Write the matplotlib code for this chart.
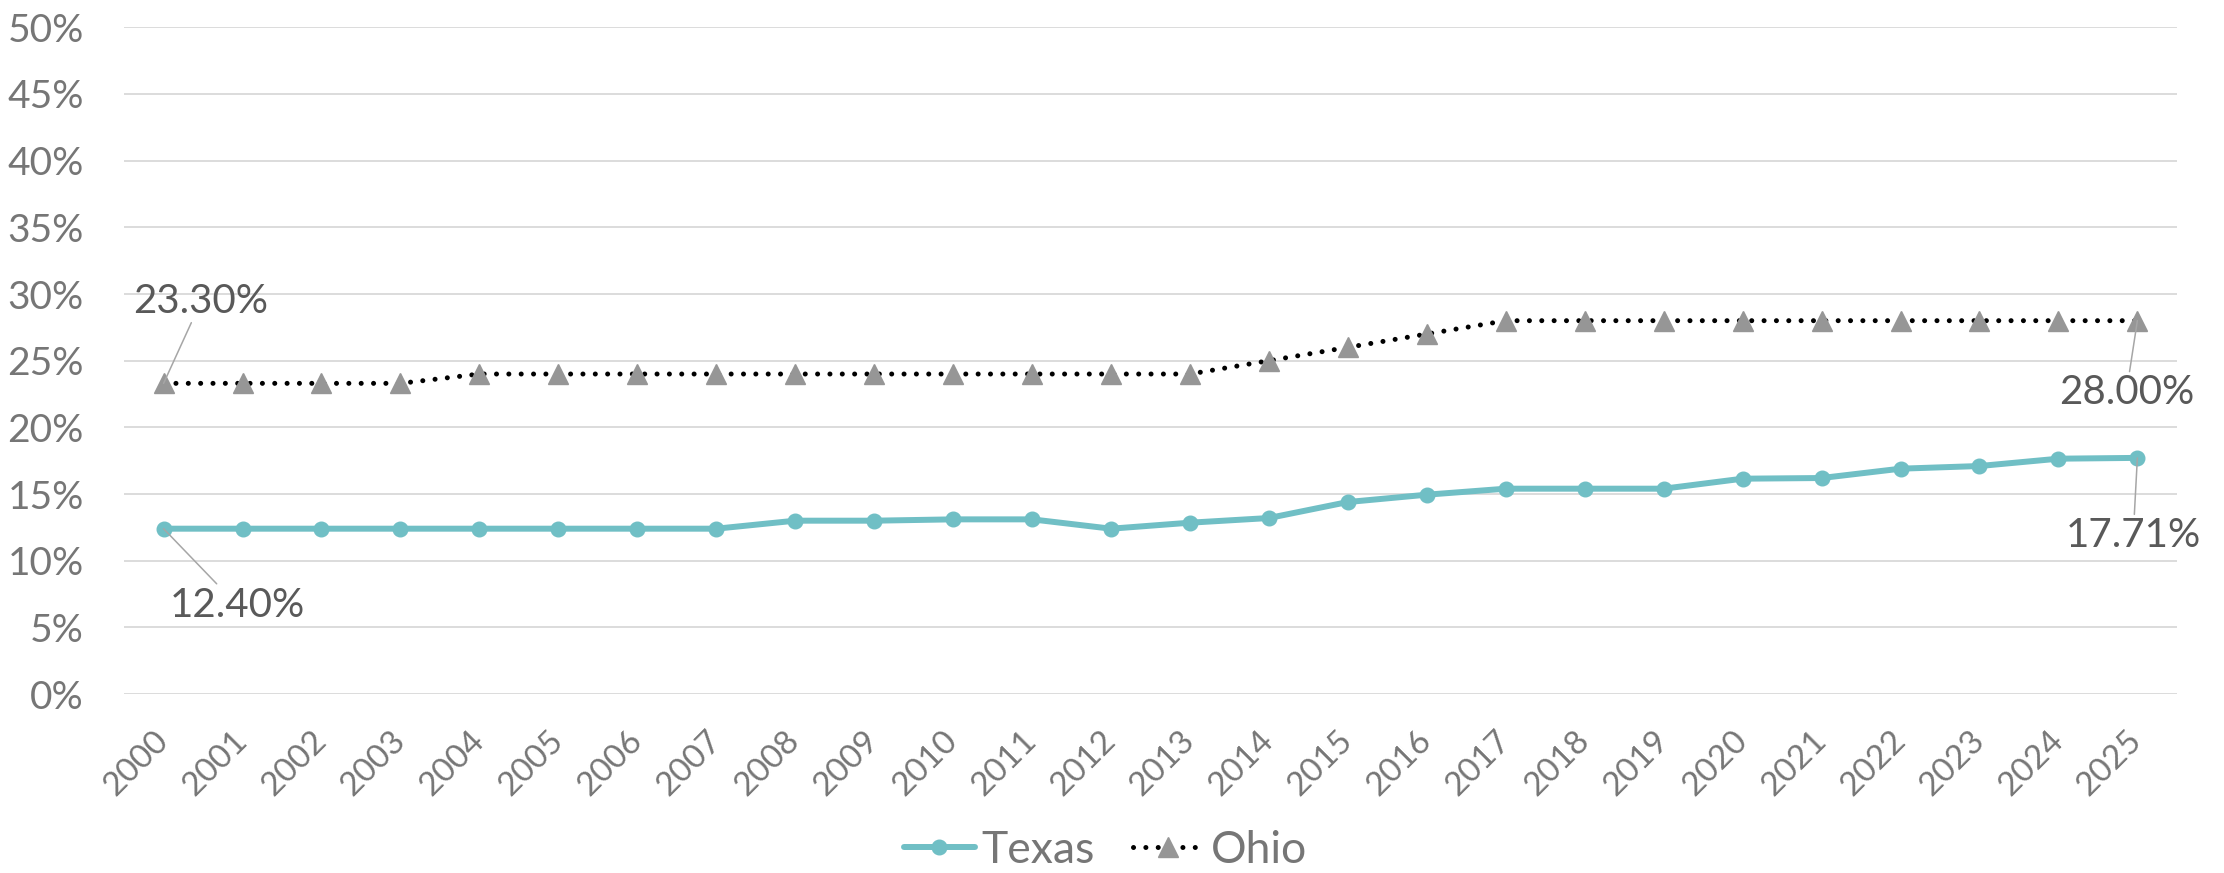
import numpy as np
import matplotlib.pyplot as plt
from matplotlib.ticker import MultipleLocator, PercentFormatter

years = [str(y) for y in range(2000, 2026)]

texas = [12.40, 12.40, 12.40, 12.40, 12.40, 12.40, 12.40, 12.40, 13.00, 13.00,
         13.10, 13.10, 12.40, 12.85, 13.20, 14.40, 14.95, 15.40, 15.40, 15.40,
         16.15, 16.20, 16.90, 17.10, 17.65, 17.71]
ohio = [23.30, 23.30, 23.30, 23.30, 24.00, 24.00, 24.00, 24.00, 24.00, 24.00,
        24.00, 24.00, 24.00, 24.00, 25.00, 26.00, 27.00, 28.00, 28.00, 28.00,
        28.00, 28.00, 28.00, 28.00, 28.00, 28.00]

teal = "#70BFC5"
tick_grey = "#767676"
label_grey = "#595959"

plt.rcParams["font.family"] = ["Lato", "DejaVu Sans"]

fig = plt.figure(figsize=(22.24, 8.73), dpi=100)
ax = fig.add_axes([0.0558, 0.205, 0.923, 0.7637])

x = np.arange(len(years))

ax.plot(x, texas, color=teal, linewidth=4.3, marker="o", markersize=10.5,
        solid_capstyle="round", label="Texas", zorder=3)
ax.plot(x, ohio, color="black", linewidth=3.6, linestyle=(0, (0.01, 2.46)),
        dash_capstyle="round", marker="^", markersize=15,
        markerfacecolor="#969696", markeredgecolor="#969696",
        label="Ohio", zorder=3)

# first / last value callouts with thin leader lines
callouts = [
    (texas, 0, (53, -55)),
    (texas, -1, (-3, -56)),
    (ohio, 0, (27, 59)),
    (ohio, -1, (-8, -52)),
]
for series, i, offset in callouts:
    ax.annotate(f"{series[i]:.2f}%", xy=(x[i], series[i]), xytext=offset,
                textcoords="offset points", ha="center", va="center",
                fontsize=29, color=label_grey,
                arrowprops=dict(arrowstyle="-", color="#A6A6A6", lw=1.1,
                                shrinkA=0, shrinkB=0),
                zorder=4)

ax.set_xlim(-0.5, len(years) - 0.5)
ax.set_ylim(0, 50)
ax.yaxis.set_major_locator(MultipleLocator(5))
ax.yaxis.set_major_formatter(PercentFormatter(xmax=100, decimals=0))

ax.set_xticks(x)
ax.set_xticklabels(years, rotation=45, ha="right", va="center",
                   rotation_mode="anchor")

ax.tick_params(axis="y", length=0, pad=29, labelsize=28, labelcolor=tick_grey)
ax.tick_params(axis="x", length=0, pad=30, labelsize=24, labelcolor=tick_grey)

ax.grid(axis="y", color="#D9D9D9", linewidth=1.3)
ax.set_axisbelow(True)
for side in ["top", "right", "left", "bottom"]:
    ax.spines[side].set_visible(False)

leg = fig.legend(loc="center", bbox_to_anchor=(0.497, 0.026), ncol=2,
                 frameon=False, fontsize=32, handlelength=1.6,
                 handletextpad=0.15, columnspacing=0.85, borderpad=0)
for text in leg.get_texts():
    text.set_color(tick_grey)

fig.savefig("out.png", dpi=100)
